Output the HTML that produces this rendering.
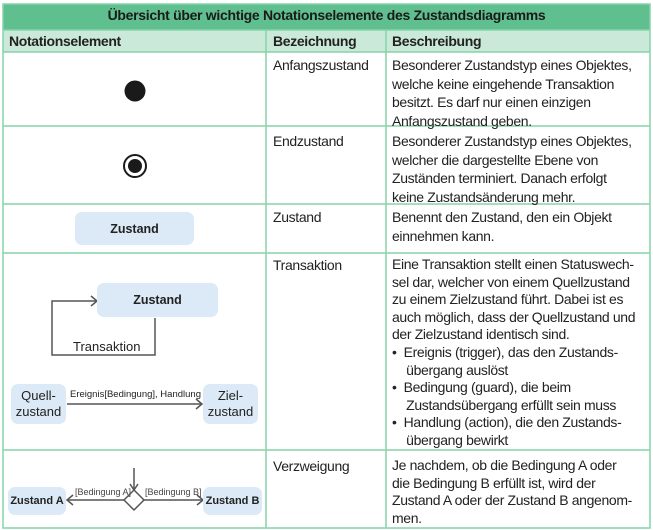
<!DOCTYPE html>
<html><head><meta charset="utf-8"><style>
body{margin:0;background:#fff;width:653px;height:530px;position:relative;overflow:hidden;font-family:"Liberation Sans",sans-serif;color:#222}
.a{position:absolute;white-space:nowrap}
.t{font-size:14px;line-height:18.5px;letter-spacing:-0.35px}
.b{font-weight:bold}
.box{position:absolute;background:#dce9f6;border-radius:7px;display:flex;align-items:center;justify-content:center;text-align:center;font-size:12.5px;line-height:16px;font-weight:bold;color:#222}
</style></head><body>
<div class="a" style="left:3px;top:4px;width:647px;height:26px;background:#5fbf8e"></div>
<div class="a" style="left:3px;top:30px;width:647px;height:22px;background:#cbe9d9"></div>
<svg class="a" style="left:0;top:0" width="653" height="530">
<g stroke="#86d3aa" stroke-width="1.5" fill="none">
<rect x="3" y="4" width="647" height="524"/>
<line x1="3" y1="30" x2="650" y2="30"/>
<line x1="3" y1="52" x2="650" y2="52"/>
<line x1="3" y1="126" x2="650" y2="126"/>
<line x1="3" y1="204" x2="650" y2="204"/>
<line x1="3" y1="253" x2="650" y2="253"/>
<line x1="3" y1="450" x2="650" y2="450"/>
<line x1="266" y1="30" x2="266" y2="528"/>
<line x1="386" y1="30" x2="386" y2="528"/>
</g>
<circle cx="135" cy="91" r="10.5" fill="#1a1a1a"/>
<circle cx="135" cy="166" r="11" fill="none" stroke="#1a1a1a" stroke-width="2"/>
<circle cx="135" cy="166" r="7" fill="#1a1a1a"/>
<g stroke="#555" stroke-width="1.5" fill="none">
<polyline points="155,318 155,355 52,355 52,301 96,301"/>
<polyline points="91,296 97,301 91,306"/>
<line x1="67" y1="404" x2="201" y2="404"/>
<polyline points="196,399 202,404 196,409"/>
<line x1="134" y1="468" x2="134" y2="490"/>
<polyline points="130,484 134,490 138,484"/>
<polygon points="134,490 144,500 134,510 124,500" fill="#fff"/>
<line x1="124" y1="500" x2="68" y2="500"/>
<polyline points="73,495 67,500 73,505"/>
<line x1="144" y1="500" x2="202" y2="500"/>
<polyline points="197,495 203,500 197,505"/>
</g>
</svg>
<div class="a b" style="left:3px;top:7px;width:647px;text-align:center;font-size:14px;letter-spacing:-0.3px;color:#1a1a1a">Übersicht über wichtige Notationselemente des Zustandsdiagramms</div>
<div class="a b t" style="left:9px;top:32px">Notationselement</div>
<div class="a b t" style="left:273px;top:32px">Bezeichnung</div>
<div class="a b t" style="left:392px;top:32px">Beschreibung</div>

<div class="a t" style="left:273px;top:56px">Anfangszustand</div>
<div class="a t" style="left:392px;top:56px">Besonderer Zustandstyp eines Objektes,<br>welche keine eingehende Transaktion<br>besitzt. Es darf nur einen einzigen<br>Anfangszustand geben.</div>

<div class="a t" style="left:273px;top:132px">Endzustand</div>
<div class="a t" style="left:392px;top:132px">Besonderer Zustandstyp eines Objektes,<br>welcher die dargestellte Ebene von<br>Zuständen terminiert. Danach erfolgt<br>keine Zustandsänderung mehr.</div>

<div class="a t" style="left:273px;top:208px">Zustand</div>
<div class="a t" style="left:392px;top:208px">Benennt den Zustand, den ein Objekt<br>einnehmen kann.</div>
<div class="box" style="left:75px;top:212px;width:119px;height:33px">Zustand</div>

<div class="a t" style="left:273px;top:256px">Transaktion</div>
<div class="a t" style="left:392px;top:256px;line-height:17.6px">Eine Transaktion stellt einen Statuswech-<br>sel dar, welcher von einem Quellzustand<br>zu einem Zielzustand führt. Dabei ist es<br>auch möglich, dass der Quellzustand und<br>der Zielzustand identisch sind.<br>•&nbsp; Ereignis (trigger), das den Zustands-<br>&nbsp;&nbsp;&nbsp;&nbsp;übergang auslöst<br>•&nbsp; Bedingung (guard), die beim<br>&nbsp;&nbsp;&nbsp;&nbsp;Zustandsübergang erfüllt sein muss<br>•&nbsp; Handlung (action), die den Zustands-<br>&nbsp;&nbsp;&nbsp;&nbsp;übergang bewirkt</div>
<div class="box" style="left:97px;top:283px;width:121px;height:34px">Zustand</div>
<div class="a" style="left:73px;top:339px;font-size:13px">Transaktion</div>
<div class="box" style="left:11px;top:384px;width:55px;height:40px;font-weight:normal;font-size:13px">Quell-<br>zustand</div>
<div class="box" style="left:203px;top:384px;width:55px;height:40px;font-weight:normal;font-size:13px">Ziel-<br>zustand</div>
<div class="a" style="left:70px;top:389px;font-size:9.5px">Ereignis[Bedingung], Handlung</div>

<div class="a t" style="left:273px;top:457px">Verzweigung</div>
<div class="a t" style="left:392px;top:457px;line-height:17.6px">Je nachdem, ob die Bedingung A oder<br>die Bedingung B erfüllt ist, wird der<br>Zustand A oder der Zustand B angenom-<br>men.</div>
<div class="box" style="left:8px;top:487px;width:58px;height:28px;font-size:11px">Zustand A</div>
<div class="box" style="left:203px;top:487px;width:59px;height:28px;font-size:11px">Zustand B</div>
<div class="a" style="left:75px;top:487px;font-size:9px;color:#444">[Bedingung A]</div>
<div class="a" style="left:145px;top:487px;font-size:9px;color:#444">[Bedingung B]</div>
</body></html>
